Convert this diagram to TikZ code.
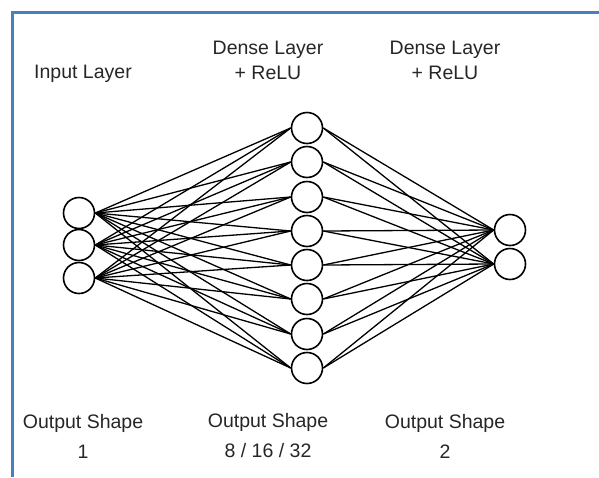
\documentclass[tikz,border=0pt]{standalone}
\usepackage{fontspec}
\setmainfont{Liberation Sans}
\definecolor{frameblue}{RGB}{74,126,193}

\begin{document}
\begin{tikzpicture}[x=1pt, y=-1pt,
        every node/.append style={draw, circle, minimum size=31pt, inner sep=0pt, line width=1.6pt},
        lbl/.style={draw=none, rectangle, align=center, text=black!85},
        link/.style={line width=1.3pt, black}]
        \useasboundingbox (0,0) rectangle (599,477);
        \draw [frameblue, line width=3pt] (12,477) -- (12,12) -- (599,12);

        % titles
        \node [lbl, font=\fontsize{19.5}{25}\selectfont] (tIn) at (83,74) {Input Layer};
        \node [lbl, font=\fontsize{19.5}{25}\selectfont] (tH) at (268,60) {Dense Layer\\+ ReLU};
        \node [lbl, font=\fontsize{19.5}{25}\selectfont] (tOut) at (445,60) {Dense Layer\\+ ReLU};

        % input layer
        \node (I1) at (79,213) {};
        \node (I2) at (79,245) {};
        \node (I3) at (79,278) {};

        % hidden layer
        \node (H1) at (307,128) {};
        \node (H2) at (307,162) {};
        \node (H3) at (307,197) {};
        \node (H4) at (307,231) {};
        \node (H5) at (307,265) {};
        \node (H6) at (307,299) {};
        \node (H7) at (307,334) {};
        \node (H8) at (307,368) {};

        % output layer
        \node (O1) at (510,230) {};
        \node (O2) at (510,264) {};

        \foreach \i in {1,2,3}
            \foreach \h in {1,...,8}
                \draw [link] (I\i.east) -- (H\h.west);
        \foreach \h in {1,...,8}
            \foreach \o in {1,2}
                \draw [link] (H\h.east) -- (O\o.west);

        % shapes
        \node [lbl, font=\fontsize{19.5}{30}\selectfont] (sIn) at (83,436) {Output Shape\\1};
        \node [lbl, font=\fontsize{19.5}{30}\selectfont] (sH) at (268,436) {Output Shape\\8 / 16 / 32};
        \node [lbl, font=\fontsize{19.5}{30}\selectfont] (sOut) at (445,436) {Output Shape\\2};
    \end{tikzpicture}
\end{document}
